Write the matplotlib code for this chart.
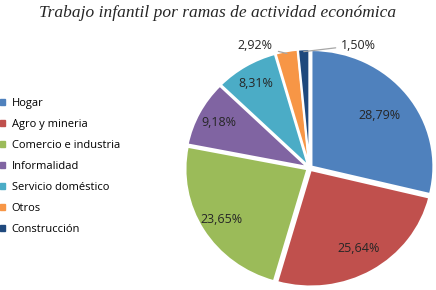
import matplotlib
matplotlib.use("Agg")
import matplotlib.pyplot as plt
import numpy as np

categories = ["Hogar", "Agro y mineria", "Comercio e industria", "Informalidad",
              "Servicio doméstico", "Otros", "Construcción"]
values = [28.79, 25.64, 23.65, 9.18, 8.31, 2.92, 1.50]
labels = ["28,79%", "25,64%", "23,65%", "9,18%", "8,31%", "2,92%", "1,50%"]
colors = ["#4F81BD", "#C0504D", "#9BBB59", "#8064A2", "#4BACC6", "#F79646", "#1F497D"]

W, H = 436, 290
fig = plt.figure(figsize=(W / 100, H / 100), dpi=100)
cx, cy = 309.5, 168
rx, ry = 122, 116.5
lim = 1.03
ax = fig.add_axes([(cx - rx * lim) / W, (H - cy - ry * lim) / H,
                   2 * rx * lim / W, 2 * ry * lim / H])
wedges, _ = ax.pie(values, colors=colors, startangle=90, counterclock=False,
                   explode=[0.02] * len(values),
                   wedgeprops=dict(edgecolor="white", linewidth=1.5))
ax.set_aspect("auto")

font = "Open Sans"
label_r = {0: 0.73, 1: 0.8, 2: 0.85, 3: 0.84, 4: 0.85}
outside_pos = {5: (-0.30, 1.05, "right"), 6: (0.26, 1.055, "left")}
for i, w in enumerate(wedges):
    ang = np.deg2rad((w.theta1 + w.theta2) / 2)
    x, y = np.cos(ang), np.sin(ang)
    if i in label_r:
        r = label_r[i]
        ax.text(r * x, r * y, labels[i], ha="center", va="center",
                fontsize=9, family=font, color="#262626")
    else:
        tx, ty, ha = outside_pos[i]
        ax.annotate(labels[i], xy=(1.0 * x, 1.0 * y), xytext=(tx, ty), ha=ha, va="center",
                    fontsize=9, family=font, color="#262626", annotation_clip=False,
                    arrowprops=dict(arrowstyle="-", color="#A6A6A6", lw=0.9,
                                    shrinkA=2, shrinkB=0))

ax.set_xlim(-lim, lim)
ax.set_ylim(-lim, lim)

handles = [plt.Rectangle((0, 0), 1, 1, color=c) for c in colors]
fig.legend(handles, categories, loc="upper left", bbox_to_anchor=(-0.015, 0.685),
           frameon=False, prop=dict(family=font, size=8),
           handlelength=0.45, handleheight=0.45, handletextpad=0.6,
           labelspacing=0.9, borderaxespad=0.2)

fig.text(0.5, 0.955, "Trabajo infantil por ramas de actividad económica",
         ha="center", va="center", fontsize=12.5, style="italic",
         family="Liberation Serif", color="#262626")

fig.savefig("out.png", dpi=100)
